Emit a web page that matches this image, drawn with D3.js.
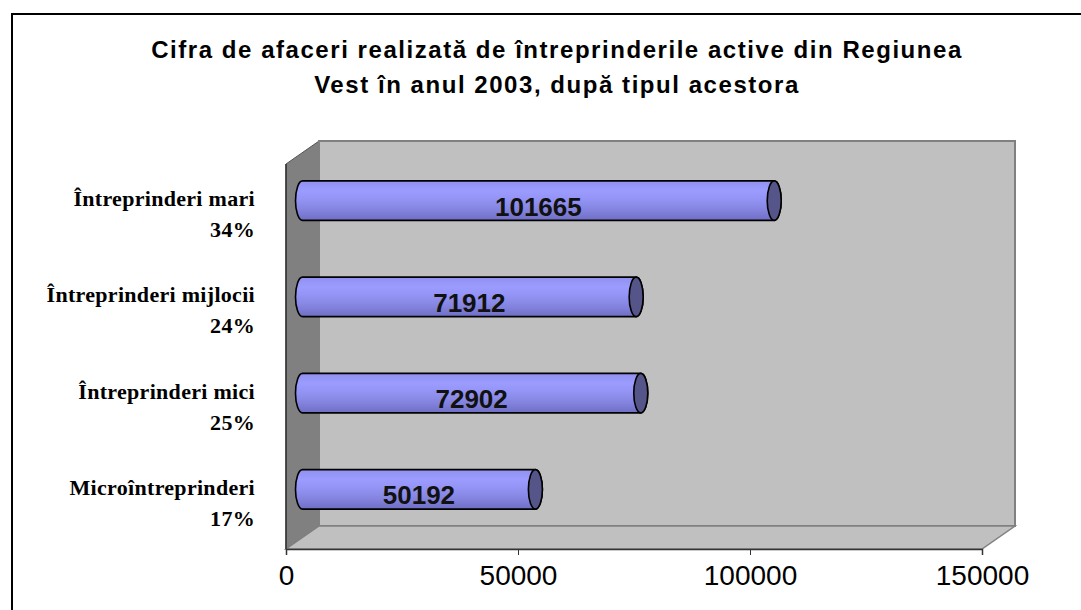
<!DOCTYPE html>
<html>
<head>
<meta charset="utf-8">
<script src="https://cdn.jsdelivr.net/npm/d3@7"></script>
<style>
    body { margin: 0; background: #fff; }
    svg { display: block; }
</style>
</head>
<body>
<svg id="chart"></svg>
<script>
var titleLines = ['Cifra de afaceri realizată de întreprinderile active din Regiunea', 'Vest în anul 2003, după tipul acestora'];
var categories = ['Întreprinderi mari', 'Întreprinderi mijlocii', 'Întreprinderi mici', 'Microîntreprinderi'];
var shares = ['34%', '24%', '25%', '17%'];
var values = [101665, 71912, 72902, 50192];
var ticks = [0, 50000, 100000, 150000];

var width = 1081;
var height = 610;

// 3d depth of the plot box
var depthX = 33;
var depthY = -23;

var xs = d3.scaleLinear().domain([0, 150000]).range([286, 982]);
var ys = d3.scaleBand().domain(categories).range([164, 549]);

var svg = d3.select('#chart')
    .attr('width', width)
    .attr('height', height);

// chart frame
svg.append('rect')
    .attr('x', 12).attr('y', 14)
    .attr('width', 1100).attr('height', 700)
    .attr('fill', '#fff')
    .attr('stroke', '#000')
    .attr('stroke-width', 2);

// title
svg.append('g').selectAll('text').data(titleLines)
    .enter()
    .append('text')
    .attr('x', 557)
    .attr('y', function (d, i) { return 58 + i * 35; })
    .attr('text-anchor', 'middle')
    .style('font-family', 'Liberation Sans, Arial, sans-serif')
    .style('font-weight', 'bold')
    .style('font-size', '24px')
    .style('letter-spacing', '1.55px')
    .text(function (d) { return d; });

var x0 = xs(0), x1 = xs(150000);
var yTop = ys.range()[0], yBot = ys.range()[1];

// left wall
svg.append('path')
    .attr('d', 'M' + x0 + ',' + yBot + 'L' + x0 + ',' + yTop + 'L' + (x0 + depthX) + ',' + (yTop + depthY) +
        'L' + (x0 + depthX) + ',' + (yBot + depthY) + 'Z')
    .attr('fill', '#808080')
    .attr('stroke', '#555')
    .attr('stroke-width', 1);

// back wall
svg.append('rect')
    .attr('x', x0 + depthX).attr('y', yTop + depthY)
    .attr('width', x1 - x0).attr('height', yBot - yTop)
    .attr('fill', '#c0c0c0')
    .attr('stroke', '#808080')
    .attr('stroke-width', 2);

// floor
svg.append('path')
    .attr('d', 'M' + x0 + ',' + yBot + 'L' + (x0 + depthX) + ',' + (yBot + depthY) + 'L' + (x1 + depthX) + ',' + (yBot + depthY) +
        'L' + x1 + ',' + yBot + 'Z')
    .attr('fill', '#c0c0c0')
    .attr('stroke', '#808080')
    .attr('stroke-width', 1.5);

// axes
svg.append('line')
    .attr('x1', x0).attr('x2', x0).attr('y1', yTop).attr('y2', yBot)
    .attr('stroke', '#333').attr('stroke-width', 1.5);

var xAxis = svg.append('g')
    .attr('transform', 'translate(0,' + yBot + ')')
    .call(d3.axisBottom(xs).tickValues(ticks).tickSize(6).tickPadding(10).tickFormat(d3.format('d')));
xAxis.select('.domain').attr('stroke', '#333').attr('stroke-width', 1.5);
xAxis.selectAll('.tick line').attr('stroke', '#333');
xAxis.selectAll('.tick text')
    .attr('fill', '#000')
    .style('font-family', 'Liberation Sans, Arial, sans-serif')
    .style('font-size', '28px');

// bar gradient
var grad = svg.append('defs').append('linearGradient')
    .attr('id', 'cyl').attr('x1', 0).attr('y1', 0).attr('x2', 0).attr('y2', 1);
grad.append('stop').attr('offset', '0%').attr('stop-color', '#9090f0');
grad.append('stop').attr('offset', '25%').attr('stop-color', '#9c9cff');
grad.append('stop').attr('offset', '45%').attr('stop-color', '#9494f6');
grad.append('stop').attr('offset', '75%').attr('stop-color', '#8383de');
grad.append('stop').attr('offset', '100%').attr('stop-color', '#6e6ec4');

var barH = ys.bandwidth() * 0.41;
var rx = 7;

var bars = svg.append('g').selectAll('g').data(values)
    .enter()
    .append('g');

bars.append('path')
    .attr('d', function (d, i) {
        var a = xs(0) + depthX / 2;
        var b = xs(d) + depthX / 2;
        var cy = ys(categories[i]) + ys.bandwidth() / 2 + depthY / 2;
        var t = cy - barH / 2, btm = cy + barH / 2;
        return 'M' + a + ',' + t + 'L' + b + ',' + t +
            'A' + rx + ',' + (barH / 2) + ' 0 0 1 ' + b + ',' + btm +
            'L' + a + ',' + btm +
            'A' + rx + ',' + (barH / 2) + ' 0 0 1 ' + a + ',' + t + 'Z';
    })
    .attr('fill', 'url(#cyl)')
    .attr('stroke', '#000')
    .attr('stroke-width', 1.6);

bars.append('ellipse')
    .attr('cx', function (d) { return xs(d) + depthX / 2; })
    .attr('cy', function (d, i) { return ys(categories[i]) + ys.bandwidth() / 2 + depthY / 2; })
    .attr('rx', rx)
    .attr('ry', barH / 2)
    .attr('fill', '#55558a')
    .attr('stroke', '#000')
    .attr('stroke-width', 1.6);

bars.append('text')
    .attr('x', function (d) { return (xs(0) + xs(d)) / 2 + depthX / 2; })
    .attr('y', function (d, i) { return ys(categories[i]) + ys.bandwidth() / 2 + depthY / 2 + 6; })
    .attr('dy', '0.35em')
    .attr('text-anchor', 'middle')
    .style('font-family', 'Liberation Sans, Arial, sans-serif')
    .style('font-weight', 'bold')
    .style('font-size', '26px')
    .attr('fill', '#111')
    .text(function (d) { return d; });

// category labels
var labels = svg.append('g').selectAll('text').data(categories)
    .enter()
    .append('text')
    .attr('text-anchor', 'end')
    .style('font-family', 'Liberation Serif, Times New Roman, serif')
    .style('font-weight', 'bold')
    .style('font-size', '22px')
    .style('letter-spacing', '0.3px')
    .attr('fill', '#000');

labels.append('tspan')
    .attr('x', 255)
    .attr('y', function (d) { return ys(d) + ys.bandwidth() / 2 - 6; })
    .text(function (d) { return d; });

labels.append('tspan')
    .attr('x', 255)
    .attr('y', function (d, i) { return ys(d) + ys.bandwidth() / 2 + 25; })
    .text(function (d, i) { return shares[i]; });
</script>
</body>
</html>
